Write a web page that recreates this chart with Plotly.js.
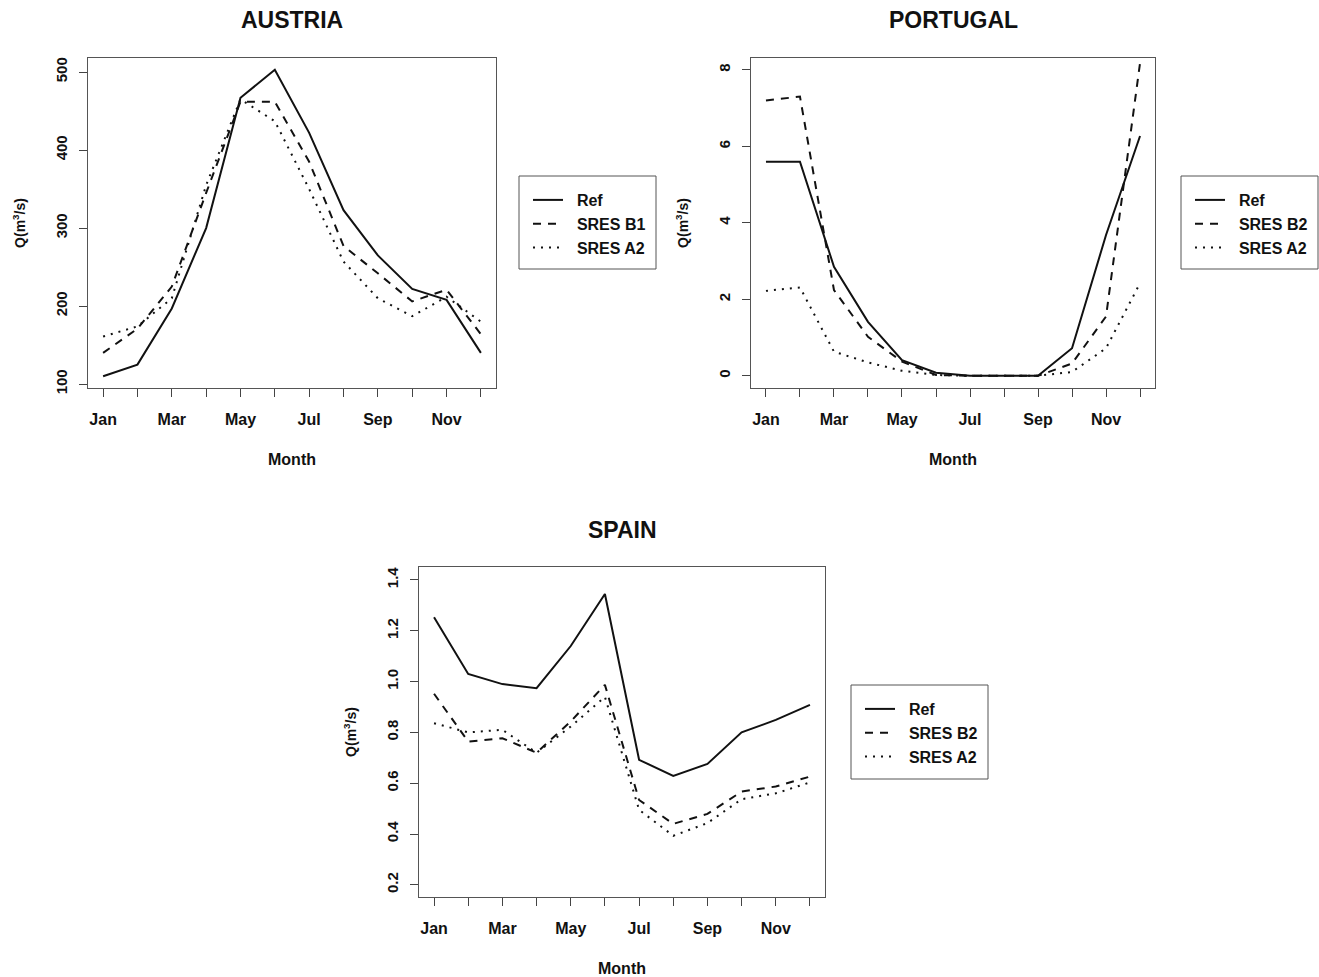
<!DOCTYPE html>
<html>
<head>
<meta charset="utf-8">
<script src="https://cdn.plot.ly/plotly-3.0.1.min.js"></script>
<style>html,body{margin:0;padding:0;background:#fff;}#chart{width:1319px;height:977px;}</style>
</head>
<body>
<div id="chart"></div>
<script>
// ---- data ----
const months = ["Jan","Feb","Mar","Apr","May","Jun","Jul","Aug","Sep","Oct","Nov","Dec"];
const monthLabels = ["Jan","","Mar","","May","","Jul","","Sep","","Nov",""];

const austriaRef  = [110, 125, 197, 300, 467, 503, 422, 323, 265, 222, 208, 140];
const austriaB1   = [140, 171, 225, 345, 462, 462, 385, 277, 242, 206, 221, 164];
const austriaA2   = [161, 174, 210, 355, 465, 437, 350, 257, 210, 187, 212, 180];

const portugalRef = [5.6, 5.6, 2.85, 1.41, 0.41, 0.08, 0, 0, 0, 0.72, 3.68, 6.27];
const portugalB2  = [7.2, 7.3, 2.24, 1.02, 0.37, 0.02, 0, 0, 0, 0.32, 1.55, 8.18];
const portugalA2  = [2.22, 2.31, 0.63, 0.35, 0.13, 0.02, 0, 0, 0, 0.1, 0.72, 2.42];

const spainRef    = [1.253, 1.03, 0.99, 0.974, 1.14, 1.345, 0.692, 0.629, 0.676, 0.80, 0.849, 0.908];
const spainB2     = [0.952, 0.764, 0.777, 0.72, 0.843, 0.987, 0.534, 0.44, 0.479, 0.567, 0.587, 0.626];
const spainA2     = [0.836, 0.80, 0.81, 0.72, 0.823, 0.94, 0.495, 0.393, 0.443, 0.537, 0.56, 0.603];

const austriaTicks  = [100, 200, 300, 400, 500];
const portugalTicks = [0, 2, 4, 6, 8];
const spainTicks    = [0.2, 0.4, 0.6, 0.8, 1.0, 1.2, 1.4];

// ---- styling ----
const W = 1319, H = 977;
const FONT = "Liberation Sans, Arial, Helvetica, sans-serif";
const px = v => v / W;
const py = v => 1 - v / H;
const SOLID = {color:'#111', width:2, dash:'solid'};
const DASH  = {color:'#111', width:2, dash:'8px,7px'};
const DOT   = {color:'#111', width:2, dash:'2px,6px'};
const GAP = '\u00a0\u00a0';

function tr(name, y, ax, lg, line){
  return {x: months, y: y, name: GAP + name, type:'scatter', mode:'lines',
          xaxis:'x'+ax, yaxis:'y'+ax, legend: lg, line: line, hoverinfo:'skip'};
}
const data = [
  tr('Ref', austriaRef, '', 'legend', SOLID),
  tr('SRES B1', austriaB1, '', 'legend', DASH),
  tr('SRES A2', austriaA2, '', 'legend', DOT),
  tr('Ref', portugalRef, '2', 'legend2', SOLID),
  tr('SRES B2', portugalB2, '2', 'legend2', DASH),
  tr('SRES A2', portugalA2, '2', 'legend2', DOT),
  tr('Ref', spainRef, '3', 'legend3', SOLID),
  tr('SRES B2', spainB2, '3', 'legend3', DASH),
  tr('SRES A2', spainA2, '3', 'legend3', DOT)
];

function xax(d0, d1, anchor){
  return {domain:[px(d0), px(d1)], anchor: anchor, type:'category',
    range:[-0.44, 11.44], tickmode:'array', tickvals: months, ticktext: monthLabels,
    showline:true, mirror:true, linecolor:'#555', linewidth:1, showgrid:false, zeroline:false,
    ticks:'outside', ticklen:8, tickcolor:'#444', tickwidth:1, ticklabelstandoff:9,
    tickfont:{family:FONT, size:16, weight:700, color:'#111'},
    title:{text:'Month', font:{family:FONT, size:16, weight:700, color:'#111'}, standoff:26},
    automargin:false, fixedrange:true};
}
function yax(d0, d1, anchor, range, ticks, fmt){
  return {domain:[py(d1), py(d0)], anchor: anchor, range: range,
    tickmode:'array', tickvals: ticks, tickformat: fmt, tickangle:-90,
    showline:true, mirror:true, linecolor:'#555', linewidth:1, showgrid:false, zeroline:false,
    ticks:'outside', ticklen:8, tickcolor:'#444', tickwidth:1, ticklabelstandoff:6,
    tickfont:{family:FONT, size:15, weight:700, color:'#111'},
    title:{text:'Q(m<sup>3</sup>/s)', font:{family:FONT, size:14, weight:700, color:'#111'}, standoff:24},
    automargin:false, fixedrange:true};
}
function leg(bx, by){
  return {x: px(bx + 9), y: py(by + 7), xanchor:'left', yanchor:'top',
    bgcolor:'rgba(0,0,0,0)', borderwidth:0, itemwidth:30, tracegroupgap:0,
    font:{family:FONT, size:16, weight:700, color:'#111'}, itemclick:false, itemdoubleclick:false};
}
function box(x0, y0, x1, y1){
  return {type:'rect', xref:'paper', yref:'paper', x0:px(x0), x1:px(x1), y0:py(y1), y1:py(y0),
    line:{color:'#555', width:1}, fillcolor:'rgba(0,0,0,0)'};
}
function ttl(text, cx, cy){
  return {text:'<b>'+text+'</b>', xref:'paper', yref:'paper', x:px(cx), y:py(cy),
    xanchor:'center', yanchor:'middle', showarrow:false,
    font:{family:FONT, size:23, color:'#111'}};
}

const layout = {
  width: W, height: H, autosize:false,
  margin:{l:0, r:0, t:0, b:0, pad:0},
  paper_bgcolor:'#fff', plot_bgcolor:'#fff',
  showlegend:true,
  xaxis:  xax(88, 496, 'y'),
  yaxis:  yax(58, 388, 'x', [95, 518], austriaTicks, 'd'),
  xaxis2: xax(751, 1155, 'y2'),
  yaxis2: yax(58, 388, 'x2', [-0.32, 8.31], portugalTicks, 'd'),
  xaxis3: xax(419, 825, 'y3'),
  yaxis3: yax(567, 897, 'x3', [0.152, 1.451], spainTicks, '.1f'),
  legend:  leg(519, 176),
  legend2: leg(1181, 176),
  legend3: leg(851, 685),
  shapes:[box(519,176,656,269), box(1181,176,1318,269), box(851,685,988,779)],
  annotations:[ttl('AUSTRIA', 292, 20), ttl('PORTUGAL', 953, 20), ttl('SPAIN', 622, 530)]
};

Plotly.newPlot('chart', data, layout, {displayModeBar:false, staticPlot:true});
</script>
</body>
</html>
